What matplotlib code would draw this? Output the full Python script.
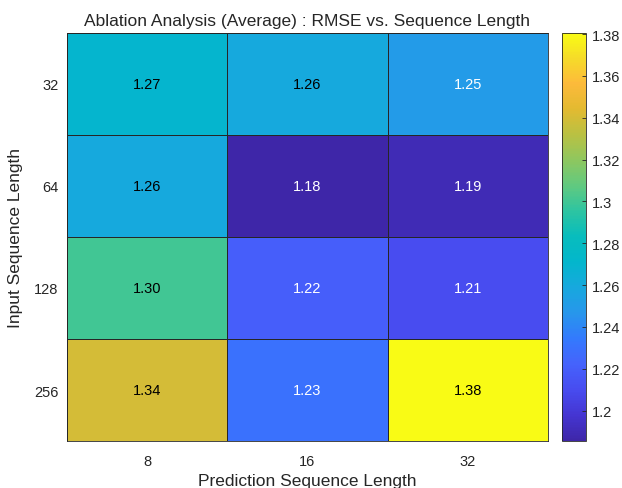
import numpy as np
import matplotlib
matplotlib.use("Agg")
import matplotlib.pyplot as plt
from matplotlib.colors import LinearSegmentedColormap

plt.rcParams['font.family'] = ['Liberation Sans', 'DejaVu Sans']

x_labels = ["8", "16", "32"]
y_labels = ["32", "64", "128", "256"]
rmse = np.array([
    [1.27, 1.26, 1.25],
    [1.26, 1.18, 1.19],
    [1.30, 1.22, 1.21],
    [1.34, 1.23, 1.38],
])
title = "Ablation Analysis (Average) : RMSE vs. Sequence Length"
xlabel = "Prediction Sequence Length"
ylabel = "Input Sequence Length"
cbar_ticks = [1.20, 1.22, 1.24, 1.26, 1.28, 1.30, 1.32, 1.34, 1.36, 1.38]
cbar_ticklabels = ["1.2", "1.22", "1.24", "1.26", "1.28", "1.3", "1.32", "1.34", "1.36", "1.38"]

# approximate MATLAB parula
parula_anchors = [
    (0.000, (0.2422, 0.1504, 0.6603)),
    (0.063, (0.2691, 0.2094, 0.8249)),
    (0.125, (0.2813, 0.2985, 0.9397)),
    (0.188, (0.2710, 0.3860, 0.9898)),
    (0.251, (0.2006, 0.4803, 0.9906)),
    (0.314, (0.1540, 0.5902, 0.9218)),
    (0.376, (0.0900, 0.6600, 0.8700)),
    (0.439, (0.0116, 0.7150, 0.8000)),
    (0.502, (0.0300, 0.7400, 0.7400)),
    (0.565, (0.1800, 0.7700, 0.6300)),
    (0.627, (0.3800, 0.7900, 0.5000)),
    (0.690, (0.5600, 0.7800, 0.3700)),
    (0.753, (0.7300, 0.7550, 0.2600)),
    (0.815, (0.8900, 0.7300, 0.1900)),
    (0.878, (0.9900, 0.7300, 0.2300)),
    (0.941, (0.9631, 0.8639, 0.1584)),
    (1.000, (0.9769, 0.9839, 0.0805)),
]
parula = LinearSegmentedColormap.from_list("parula", parula_anchors, N=256)

vmin, vmax = 1.1855, 1.3805
dark = (0.15, 0.15, 0.15)

fig = plt.figure(figsize=(6.22, 4.89), dpi=100)
ax = fig.add_axes([0.1077, 0.0961, 0.881 - 0.1077, 0.9305 - 0.0961])
cax = fig.add_axes([0.9035, 0.0961, 0.942 - 0.9035, 0.9305 - 0.0961])

nrows, ncols = rmse.shape
im = ax.pcolormesh(np.arange(ncols + 1), np.arange(nrows + 1), rmse, cmap=parula,
                   vmin=vmin, vmax=vmax, edgecolor=dark, linewidth=0.5)
ax.set_xlim(0, ncols)
ax.set_ylim(nrows, 0)
ax.set_xticks(np.arange(ncols) + 0.5)
ax.set_xticklabels(x_labels)
ax.set_yticks(np.arange(nrows) + 0.5)
ax.set_yticklabels(y_labels)
ax.tick_params(length=0, labelsize=10.5, colors=dark)
ax.tick_params(axis="x", pad=9)
ax.tick_params(axis="y", pad=6)
for s in ax.spines.values():
    s.set_color(dark)
    s.set_linewidth(0.6)

for i in range(nrows):
    for j in range(ncols):
        v = rmse[i, j]
        t = (v - vmin) / (vmax - vmin)
        color = "white" if t < 0.36 else "black"
        ax.text(j + 0.5, i + 0.5, f"{v:.2f}", ha="center", va="center",
                fontsize=10.5, color=color)

ax.set_title(title, fontsize=12.5, color=dark, pad=6)
ax.set_xlabel(xlabel, fontsize=12.5, color=dark, labelpad=4)
ax.set_ylabel(ylabel, fontsize=12.5, color=dark, labelpad=8)

cb = fig.colorbar(im, cax=cax)
cb.set_ticks(cbar_ticks)
cb.set_ticklabels(cbar_ticklabels)
cax.tick_params(direction="in", length=3, width=0.6, labelsize=10.5, colors=dark, pad=4)
cb.outline.set_edgecolor(dark)
cb.outline.set_linewidth(0.6)

fig.savefig("out.png", dpi=100)
